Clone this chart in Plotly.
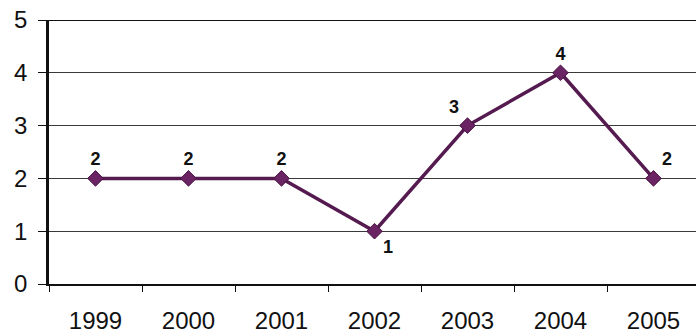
import plotly.graph_objects as go

years = ["1999", "2000", "2001", "2002", "2003", "2004", "2005"]
values = [2, 2, 2, 1, 3, 4, 2]
label_pos = ["top center", "top center", "top center", "bottom right", "top left", "top center", "top right"]

fig = go.Figure()
fig.add_trace(go.Scatter(
    x=years, y=values,
    mode="lines+markers+text",
    line=dict(color="#551a4f", width=3.5),
    marker=dict(symbol="diamond", size=12, color="#6a2363", line=dict(color="#4a1444", width=1)),
    text=[str(v) for v in values],
    textposition=label_pos,
    textfont=dict(family="Liberation Sans, Arial", size=18, color="#111111", weight="bold"),
    cliponaxis=False,
    showlegend=False,
))

fig.update_layout(
    width=696, height=335,
    margin=dict(l=49, r=0, t=20, b=51, autoexpand=False),
    paper_bgcolor="white", plot_bgcolor="white",
    font=dict(family="Liberation Sans, Arial", size=24, color="#111111"),
    xaxis=dict(
        type="category", range=[-0.5, 6.457], automargin=False,
        showgrid=False, showline=True, linecolor="#111111", linewidth=2,
        ticks="outside", ticklen=6, tickcolor="#111111",
        tickson="boundaries", ticklabelstandoff=14,
        zeroline=False,
    ),
    yaxis=dict(
        range=[0, 5], dtick=1, tick0=0, automargin=False,
        showgrid=True, gridcolor="#3a3a3a", gridwidth=1,
        showline=True, linecolor="#111111", linewidth=2.5,
        ticks="outside", ticklen=8, tickcolor="#111111",
        ticklabelstandoff=6, zeroline=False,
    ),
)
fig.add_shape(type="line", xref="paper", yref="y", x0=0, x1=1, y0=5, y1=5,
              line=dict(color="#111111", width=2))

fig.write_html("out.html")
